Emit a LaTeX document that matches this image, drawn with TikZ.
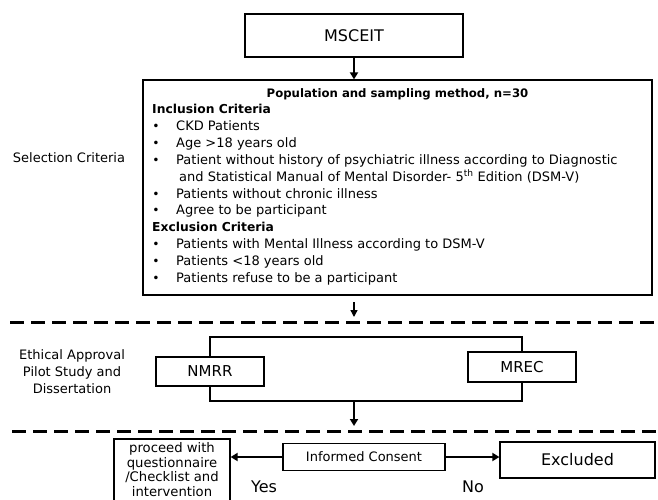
\documentclass[tikz,border=0pt]{standalone}
\usepackage{fontspec}
\setmainfont{DejaVu Sans}
\usetikzlibrary{arrows.meta}
\begin{document}
\begin{tikzpicture}[x=1pt,y=-1pt,
  box/.style={draw, line width=1.2pt, inner sep=0pt},
  arr/.style={line width=2.2pt, -{Triangle[width=8pt,length=7pt]}},
  thinarr/.style={line width=1.4pt, -{Triangle[width=7pt,length=7pt]}},
  brk/.style={line width=2.4pt},
  sep/.style={line width=3pt, dash pattern=on 14pt off 7pt},
  body/.style={font=\fontsize{13}{15}\selectfont, inner sep=0pt, anchor=base west},
  bold/.style={font=\bfseries\fontsize{12.3}{15}\selectfont, inner sep=0pt, anchor=base west},
  bul/.style={font=\fontsize{12.3}{15}\selectfont, inner sep=0pt, anchor=base},
  side/.style={font=\fontsize{13}{17}\selectfont, inner sep=0pt, align=center}]
\useasboundingbox (0,0) rectangle (658,500);
\clip (0,0) rectangle (658,500);

% top box
\node[box, minimum width=218pt, minimum height=43pt, font=\fontsize{16}{18}\selectfont] (msceit) at (354,35.5) {MSCEIT};
% criteria box
\node[box, minimum width=509pt, minimum height=215pt] (crit) at (397.5,187.5) {};
\draw[arr] (msceit.south -| 354,0) -- (crit.north -| 354,0);

\node[font=\bfseries\fontsize{11.7}{15}\selectfont, inner sep=0pt, anchor=base] (title) at (397.5,97.5) {Population and sampling method, n=30};
\node[bold] (inc) at (152,113.5) {Inclusion Criteria};
\node[bul] (b1) at (156,130.4) {•};
\node[body] (t1) at (176,130.4) {CKD Patients};
\node[bul] (b2) at (156,147.3) {•};
\node[body] (t2) at (176,147.3) {Age >18 years old};
\node[bul] (b3) at (156,164.2) {•};
\node[body] (t3) at (176,164.2) {Patient without history of psychiatric illness according to Diagnostic};
\node[body] (t3b) at (179,181.1) {and Statistical Manual of Mental Disorder- 5\textsuperscript{th} Edition (DSM-V)};
\node[bul] (b4) at (156,198.0) {•};
\node[body] (t4) at (176,198.0) {Patients without chronic illness};
\node[bul] (b5) at (156,214.9) {•};
\node[body] (t5) at (176,214.9) {Agree to be participant};
\node[bold] (exc) at (152,231.8) {Exclusion Criteria};
\node[bul] (b6) at (156,248.7) {•};
\node[body] (t6) at (176,248.7) {Patients with Mental Illness according to DSM-V};
\node[bul] (b7) at (156,265.6) {•};
\node[body] (t7) at (176,265.6) {Patients <18 years old};
\node[bul] (b8) at (156,282.5) {•};
\node[body] (t8) at (176,282.5) {Patients refuse to be a participant};

\node[side] (sel) at (69,158) {Selection Criteria};

% first separator
\coordinate (a1) at (354,317);
\draw[thinarr] (354,302) -- (a1);
\coordinate (s1a) at (10,322);
\coordinate (s1b) at (662,322);
\draw[sep] (s1a) -- (s1b);

% ethics
\node[side] (eth) at (72,372) {Ethical Approval\\Pilot Study and\\Dissertation};
\node[box, minimum width=108pt, minimum height=29pt, font=\fontsize{15}{17}\selectfont] (nmrr) at (210,371.5) {NMRR};
\node[box, minimum width=108pt, minimum height=30pt, font=\fontsize{15}{17}\selectfont] (mrec) at (522,367) {MREC};
\coordinate (top) at (354,337);
\coordinate (bot) at (354,401);
\draw[brk] (nmrr.north) |- (top) -| (mrec.north);
\draw[brk] (nmrr.south) |- (bot) -| (mrec.south);
\coordinate (a2) at (354,426);
\draw[arr] (bot) -- (a2);

% second separator
\coordinate (s2a) at (12,431);
\coordinate (s2b) at (662,431);
\draw[sep] (s2a) -- (s2b);

% bottom row
\node[box, minimum width=116pt, minimum height=76pt] (proc) at (172,477) {};
\node[font=\fontsize{13.2}{14.8}\selectfont, inner sep=0pt, align=center] (proctxt) at (172,469.5) {proceed with\\questionnaire\\/Checklist and\\intervention};
\node[box, minimum width=162pt, minimum height=27pt, font=\fontsize{13}{15}\selectfont] (ic) at (364,457) {Informed Consent};
\node[box, minimum width=155pt, minimum height=36pt, font=\fontsize{16}{18}\selectfont] (excl) at (577.5,460) {Excluded};
\draw[arr] (ic.west) -- (ic.west -| proc.east);
\draw[arr] (ic.east) -- (ic.east -| excl.west);
\node[font=\fontsize{16}{18}\selectfont, inner sep=0pt] (yes) at (264,487) {Yes};
\node[font=\fontsize{16}{18}\selectfont, inner sep=0pt] (no) at (473,487) {No};
\end{tikzpicture}
\end{document}
